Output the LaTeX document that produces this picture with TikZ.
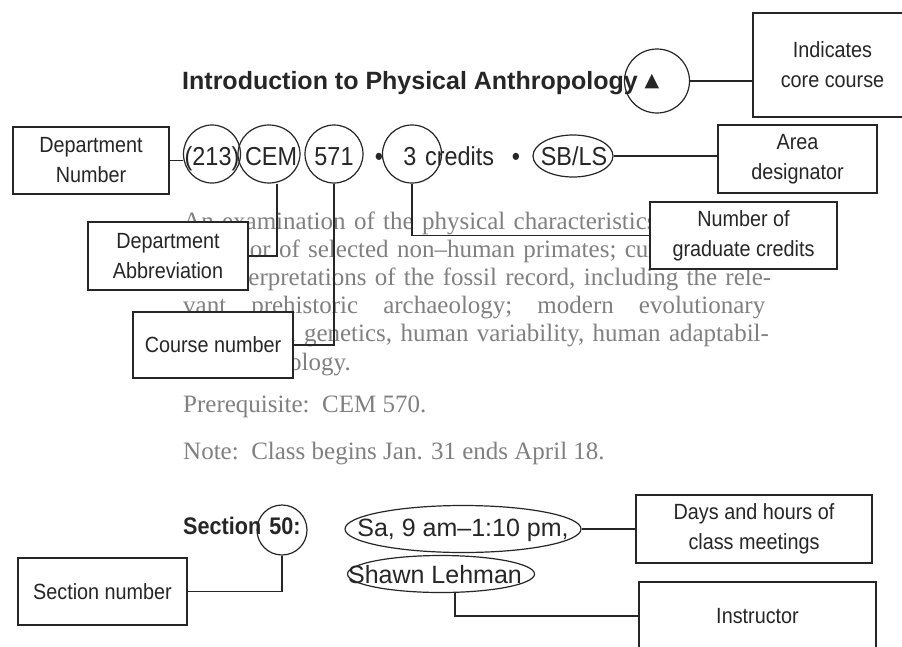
\documentclass[tikz,border=0pt]{standalone}
\usepackage{fontspec}
\setmainfont{Liberation Serif}
\newfontfamily\sansfont{Liberation Sans}
\newfontfamily\condfont[FakeStretch=0.9]{Liberation Sans}
\newfontfamily\symfont{DejaVu Sans}
\usetikzlibrary{shapes.geometric}

\begin{document}
\begin{tikzpicture}[x=1pt, y=-1pt,
  infobox/.style={rectangle, draw=black!85, line width=1.4pt, fill=white, align=center, inner sep=0pt, text=black!85, font=\condfont\fontsize{22}{30}\selectfont},
  ring/.style={ellipse, draw=black!85, line width=1.2pt, inner sep=0pt},
  rowtext/.style={anchor=base, inner sep=0pt, text=black!85, font=\condfont\fontsize{26}{30}\selectfont},
  bodytext/.style={anchor=base west, inner sep=0pt, text=black!50, font=\fontsize{25}{28.2}\selectfont},
  link/.style={draw=black!85, line width=1.2pt}]
\useasboundingbox (0,0) rectangle (902,646);
\clip (0,0) rectangle (902,646);
\fill[white] (0,0) rectangle (902,646);

% catalogue entry
\node[anchor=base west, inner sep=0pt, text=black!85, font=\sansfont\bfseries\fontsize{25}{30}\selectfont] (title) at (182,89) {Introduction to Physical Anthropology};
\node[text=black!85, font=\symfont\fontsize{19}{20}\selectfont] (tri) at (652,82) {▲};

\node[rowtext] (t213) at (212,165) {(213)};
\node[rowtext] (tcem) at (271,165) {CEM};
\node[rowtext] (t571) at (334,165) {571};
\node[rowtext] (dot1) at (379,165) {•};
\node[rowtext] (t3) at (410,165) {3};
\node[rowtext, anchor=base west] (tcred) at (425,165) {credits};
\node[rowtext] (dot2) at (516,165) {•};
\node[rowtext] (tsbls) at (574,165) {SB/LS};

\node[bodytext, text width=582pt] (descr) at (183,229) {%
\makebox[582pt][s]{An examination of the physical characteristics and the}\\
\makebox[582pt][s]{behavior of selected non–human primates; current and}\\
\makebox[582pt][s]{the interpretations of the fossil record, including the rele-}\\
\makebox[582pt][l]{vant\hfill prehistoric\hfill archaeology;\hfill modern\hfill evolutionary}\\
\makebox[582pt][s]{and human genetics, human variability, human adaptabil-}\\
ity, and ecology.};
\node[bodytext] (prereq) at (183,412) {Prerequisite:\ \ CEM 570.};
\node[bodytext] (note) at (183,459) {Note:\ \ Class begins Jan. 31 ends April 18.};

\node[anchor=base west, inner sep=0pt, text=black!85, font=\condfont\bfseries\fontsize{24}{30}\selectfont] (sectxt) at (183,534) {Section};
\node[anchor=base, inner sep=0pt, text=black!85, font=\condfont\bfseries\fontsize{24}{30}\selectfont] (t50) at (285,534) {50:};
\node[anchor=base, inner sep=0pt, text=black!85, font=\sansfont\fontsize{25}{30}\selectfont] (tsa) at (463,536) {Sa, 9 am–1:10 pm,};
\node[anchor=base, inner sep=0pt, text=black!85, font=\sansfont\fontsize{25}{30}\selectfont] (tshawn) at (435,583) {Shawn Lehman};

% rings
\node[ring, minimum width=65, minimum height=64] (ctri) at (657,81) {};
\node[ring, minimum width=57, minimum height=58] (c213) at (212,154) {};
\node[ring, minimum width=62, minimum height=58] (ccem) at (269,154) {};
\node[ring, minimum width=58, minimum height=58] (c571) at (334,154) {};
\node[ring, minimum width=59, minimum height=58] (c3) at (412,154) {};
\node[ring, minimum width=80, minimum height=42] (csbls) at (573,156) {};
\node[ring, minimum width=50, minimum height=50] (c50) at (282,530) {};
\node[ring, minimum width=236, minimum height=47] (csa) at (463,529) {};
\node[ring, minimum width=187, minimum height=37] (cshawn) at (441,574) {};

% callouts
\node[infobox, minimum width=159, minimum height=104] (core) at (832.5,65) {Indicates\\core course};
\node[infobox, minimum width=156, minimum height=67] (deptnum) at (91,160.5) {Department\\Number};
\node[infobox, minimum width=159, minimum height=68] (area) at (797.5,159) {Area\\designator};
\node[infobox, minimum width=187, minimum height=67] (grad) at (743.5,235.5) {Number of\\graduate credits};
\node[infobox, minimum width=160, minimum height=68] (abbrev) at (168,256) {Department\\Abbreviation};
\node[infobox, minimum width=160, minimum height=66] (course) at (213,345) {Course number};
\node[infobox, minimum width=236, minimum height=68] (days) at (754,529) {Days and hours of\\class meetings};
\node[infobox, minimum width=169, minimum height=67] (secnum) at (102.5,591.5) {Section number};
\node[infobox, minimum width=237, minimum height=68] (instr) at (757.5,616) {Instructor};

\draw[link] (ctri.east) -- (ctri.east -| core.west);
\draw[link] (deptnum.east) -- (deptnum.east -| c213.west);
\draw[link] (csbls.east) -- (csbls.east -| area.west);
\draw[link] ([xshift=8]ccem.south) |- (abbrev.east);
\draw[link] (c571.south) |- (course.east);
\draw[link] (c3.south) |- (grad.west);
\draw[link] (secnum.east) -| (c50.south);
\draw[link] (csa.east) -- (csa.east -| days.west);
\draw[link] ([xshift=14]cshawn.south) |- (instr.west);
\end{tikzpicture}
\end{document}
